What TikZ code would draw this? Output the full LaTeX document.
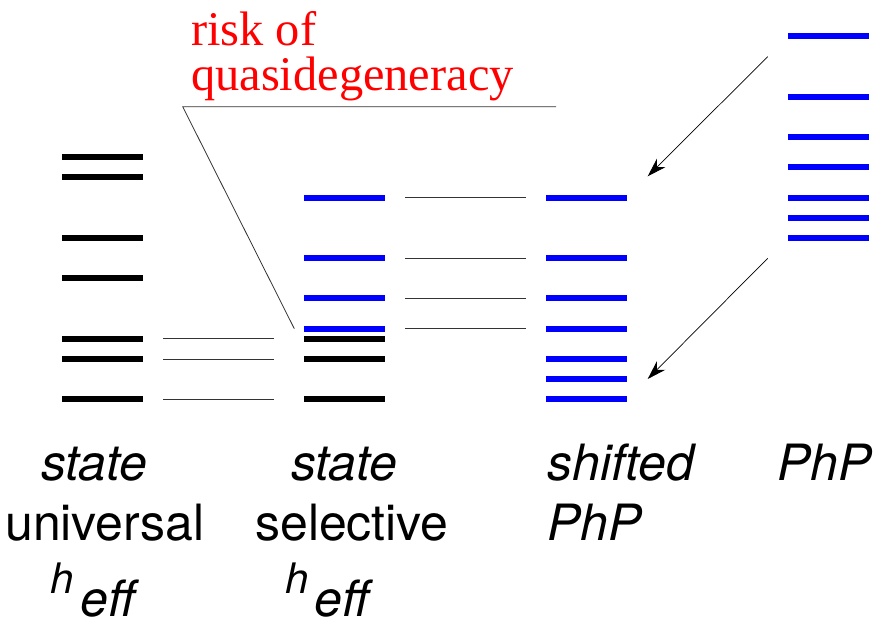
\documentclass[tikz,border=0pt]{standalone}
\usepackage{fontspec}
\usetikzlibrary{arrows.meta}
\newfontfamily\labelfont{TeX Gyre Heros}
\newfontfamily\notefont{Liberation Serif}
\definecolor{lvlblue}{RGB}{0,0,255}
\definecolor{notered}{RGB}{255,0,0}
\tikzset{
  lvl/.style={fill=black, inner sep=0pt, minimum width=80.7pt, minimum height=6pt, draw=none},
  lvlb/.style={lvl, fill=lvlblue},
  link/.style={line width=0.8pt, black!80},
  arr/.style={line width=0.7pt, -{Stealth[length=19pt, width=12pt, inset=6pt]}},
  lab/.style={inner sep=0pt, anchor=base west, font=\labelfont\fontsize{50}{57}\selectfont},
  labit/.style={lab, font=\labelfont\itshape\fontsize{50}{57}\selectfont},
  labh/.style={lab, font=\labelfont\itshape\fontsize{42}{48}\selectfont},
  note/.style={inner sep=0pt, anchor=base west, text=notered, font=\notefont\fontsize{48.4}{40}\selectfont}
}
\begin{document}
\begin{tikzpicture}[x=1pt, y=-1pt]
\useasboundingbox (0,0) rectangle (876,624);

% state-universal h_eff levels
\foreach \i/\y in {1/157,2/177.3,3/237.7,4/278,5/338.7,6/359,7/399.3}
  \node[lvl] (u\i) at (102.35,\y) {};

% state-selective h_eff: intruder (blue) and model (black) levels
\foreach \i/\y in {1/197.7,2/258,3/298.3,4/328.7}
  \node[lvlb] (sb\i) at (344.35,\y) {};
\foreach \i/\y in {1/338.7,2/359,3/399.3}
  \node[lvl] (sk\i) at (344.35,\y) {};

% shifted PhP levels
\foreach \i/\y in {1/197.7,2/258,3/298.3,4/328.7,5/359,6/379,7/399}
  \node[lvlb] (h\i) at (586.35,\y) {};

% PhP levels
\foreach \i/\y in {1/36,2/96.7,3/137,4/167.3,5/197.7,6/217.7,7/237.7}
  \node[lvlb] (p\i) at (828.35,\y) {};

% correspondence lines
\draw[link] ([xshift=20.3pt]u5.east) -- ([xshift=-30.3pt]sk1.west);
\draw[link] ([xshift=20.3pt]u6.east) -- ([xshift=-30.3pt]sk2.west);
\draw[link] ([xshift=20.3pt]u7.east) -- ([xshift=-30.3pt]sk3.west);
\foreach \i in {1,2,3,4}
  \draw[link] ([xshift=20.3pt]sb\i.east) -- ([xshift=-20.3pt]h\i.west);

% shift arrows
\coordinate (a1s) at (767.7,56.7);
\coordinate (a1e) at (647.7,176.3);
\coordinate (a2s) at (767.7,258.3);
\coordinate (a2e) at (647.7,379);
\draw[arr] (a1s) -- (a1e);
\draw[arr] (a2s) -- (a2e);

% quasidegeneracy note
\node[note] (n1) at (191,45)
  {\begin{tabular}[t]{@{}l@{}}risk of\\quasidegeneracy\end{tabular}};
\coordinate (qa) at (556,106.7);
\coordinate (qb) at (182.7,106.7);
\draw[link] (qa) -- (qb) -- ([xshift=-9.5pt]sb4.west);

% column captions
\node[labit] (c1a) at (41,480) {state};
\node[lab]   (c1b) at (5,540) {universal};
\node[labh]  (c1c) at (50,593) {h};
\node[labit] (c1d) at (80,616) {eff};

\node[labit] (c2a) at (291,480) {state};
\node[lab]   (c2b) at (255,540) {selective};
\node[labh]  (c2c) at (285,593) {h};
\node[labit] (c2d) at (314,616) {eff};

\node[labit] (c3a) at (547,480) {shifted};
\node[labit] (c3b) at (547,540) {PhP};

\node[labit] (c4a) at (777,480) {PhP};
\end{tikzpicture}
\end{document}
